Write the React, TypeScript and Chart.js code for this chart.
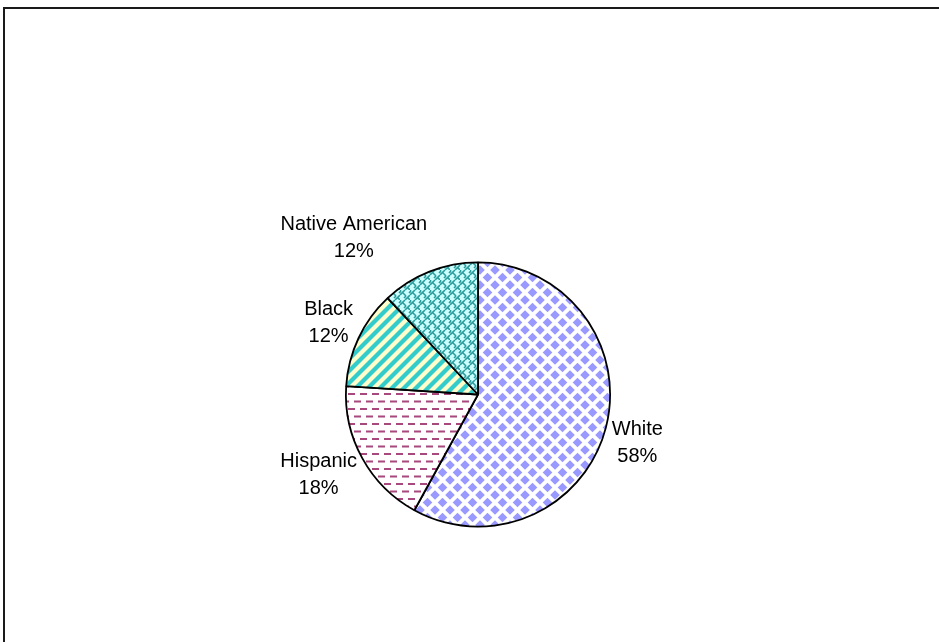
import { useEffect, useRef } from "react";
import { Chart, registerables } from "chart.js";

Chart.register(...registerables);

const categories = ["White", "Hispanic", "Black", "Native American"];
const values = [58, 18, 12, 12];
const percentLabels = ["58%", "18%", "12%", "12%"];

function makeTile(w: number, h: number, draw: (c: CanvasRenderingContext2D) => void) {
  const t = document.createElement("canvas");
  t.width = w;
  t.height = h;
  const c = t.getContext("2d")!;
  draw(c);
  return t;
}

function diamondTile() {
  const s = 15;
  return makeTile(s, s, (c) => {
    c.fillStyle = "#ffffff";
    c.fillRect(0, 0, s, s);
    c.fillStyle = "#9999ff";
    const h = 4.8;
    const centers = [
      [0, 0], [s, 0], [0, s], [s, s], [s / 2, s / 2],
    ];
    for (const [x, y] of centers) {
      c.beginPath();
      c.moveTo(x, y - h);
      c.lineTo(x + h, y);
      c.lineTo(x, y + h);
      c.lineTo(x - h, y);
      c.closePath();
      c.fill();
    }
  });
}

function dashTile() {
  const w = 12;
  const h = 15;
  return makeTile(w, h, (c) => {
    c.fillStyle = "#ffffff";
    c.fillRect(0, 0, w, h);
    c.fillStyle = "#a8487c";
    c.fillRect(0, 3, 7, 2);
    c.fillRect(6, 10.5, 6, 2);
    c.fillRect(0, 10.5, 1, 2);
  });
}

function stripeTile() {
  const s = 12;
  return makeTile(s, s, (c) => {
    c.fillStyle = "#ffffcc";
    c.fillRect(0, 0, s, s);
    c.strokeStyle = "#33cccc";
    c.lineWidth = 4.2;
    c.lineCap = "square";
    const segs = [
      [-s / 2, s / 2, s / 2, -s / 2],
      [0, s, s, 0],
      [s / 2, s * 1.5, s * 1.5, s / 2],
    ];
    for (const [a, b, d, e] of segs) {
      c.beginPath();
      c.moveTo(a, b);
      c.lineTo(d, e);
      c.stroke();
    }
  });
}

function weaveTile() {
  const s = 10;
  return makeTile(s, s, (c) => {
    c.fillStyle = "#ccffff";
    c.fillRect(0, 0, s, s);
    c.strokeStyle = "#2a9c9c";
    c.lineWidth = 1.6;
    const segs = [
      [0, 5, 5, 0],
      [5, 10, 10, 5],
      [2.5, 2.5, 6, 6],
      [7.5, 7.5, 10, 10],
      [0, 0, 1, 1],
      [6, 6, 4, 8],
      [1, 1, -1, 3],
      [11, 1, 9, 3],
    ];
    for (const [a, b, d, e] of segs) {
      c.beginPath();
      c.moveTo(a, b);
      c.lineTo(d, e);
      c.stroke();
    }
  });
}

const labelPlugin = {
  id: "outsideLabels",
  afterDatasetsDraw(chart: any) {
    const ctx = chart.ctx as CanvasRenderingContext2D;
    const meta = chart.getDatasetMeta(0);
    ctx.save();
    ctx.font = '20px "Liberation Sans", Arial, sans-serif';
    ctx.fillStyle = "#000000";
    ctx.textAlign = "center";
    ctx.textBaseline = "middle";
    meta.data.forEach((arc: any, i: number) => {
      const p = arc.getProps(["x", "y", "startAngle", "endAngle", "outerRadius"], true);
      const mid = (p.startAngle + p.endAngle) / 2;
      const dx = Math.cos(mid);
      const dy = Math.sin(mid);
      const r = p.outerRadius + 6;
      const ax = p.x + dx * r;
      const ay = p.y + dy * r;
      const lines = [categories[i], percentLabels[i]];
      const bw = Math.max(...lines.map((l) => ctx.measureText(l).width));
      const cx = dx >= 0 ? ax + bw / 2 : ax - bw / 2;
      const cy = ay + dy * 30 + (dx >= 0 ? 7 : 0);
      ctx.fillText(lines[0], cx, cy - 13.5);
      ctx.fillText(lines[1], cx, cy + 13.5);
    });
    ctx.restore();
  },
};

export default function App() {
  const ref = useRef<HTMLCanvasElement | null>(null);
  useEffect(() => {
    const canvas = ref.current!;
    const ctx = canvas.getContext("2d")!;
    const fills = [
      ctx.createPattern(diamondTile(), "repeat"),
      ctx.createPattern(dashTile(), "repeat"),
      ctx.createPattern(stripeTile(), "repeat"),
      ctx.createPattern(weaveTile(), "repeat"),
    ];
    const chart = new Chart(canvas, {
      type: "pie",
      data: {
        labels: categories,
        datasets: [
          {
            data: values,
            backgroundColor: fills as any,
            borderColor: "#000000",
            borderWidth: 1.8,
          },
        ],
      },
      options: {
        responsive: false,
        animation: false,
        layout: { padding: { left: 345, right: 328, top: 261, bottom: 114 } },
        plugins: {
          legend: { display: false },
          tooltip: { enabled: false },
          title: { display: false },
        },
      },
      plugins: [labelPlugin],
    });
    return () => chart.destroy();
  }, []);
  return (
    <div>
      <div
        style={{
          position: "fixed",
          left: 3,
          top: 7,
          right: 0,
          bottom: 0,
          borderLeft: "2px solid #1a1a1a",
          borderTop: "2px solid #1a1a1a",
          background: "#ffffff",
        }}
      />
      <canvas
        ref={ref}
        width={939}
        height={642}
        style={{ position: "fixed", left: 0, top: 0, width: 939, height: 642 }}
      />
    </div>
  );
}
